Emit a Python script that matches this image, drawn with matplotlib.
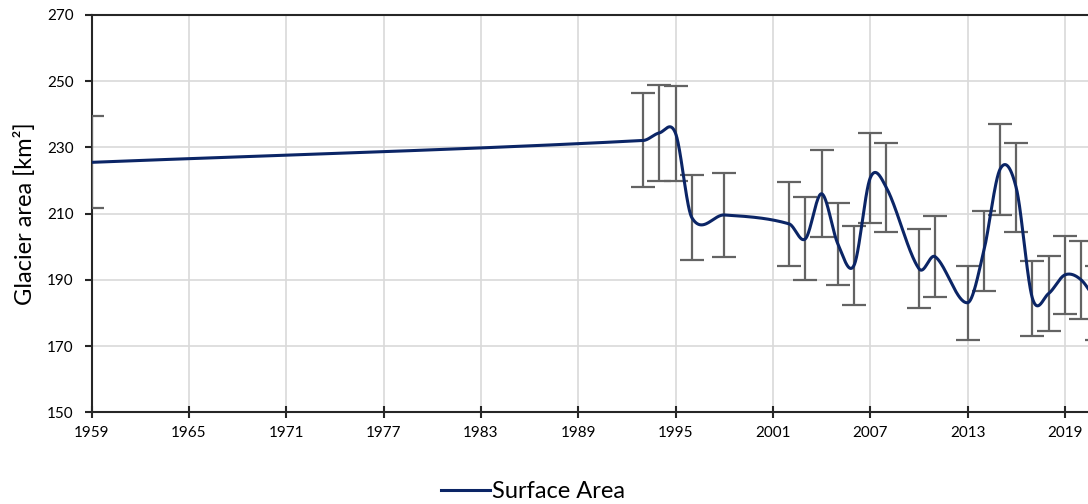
import numpy as np
import matplotlib
matplotlib.use('Agg')
import matplotlib.pyplot as plt

plt.rcParams['font.family'] = ['Lato', 'DejaVu Sans']

# Glacier surface area per year
years = [1959, 1993, 1994, 1995, 1996, 1998, 2002, 2003, 2004, 2005, 2006, 2007,
         2008, 2010, 2011, 2013, 2014, 2015, 2016, 2017, 2018, 2019, 2020, 2021]
area = [225.5, 232.1, 234.4, 234.2, 208.8, 209.6, 206.9, 202.4, 216.0, 200.9, 194.4, 220.8,
        217.8, 193.4, 197.0, 183.1, 198.7, 223.4, 217.8, 184.4, 185.9, 191.5, 190.0, 183.0]
err = [13.9, 14.2, 14.4, 14.4, 12.9, 12.8, 12.7, 12.5, 13.2, 12.3, 12.0, 13.5,
       13.4, 11.9, 12.2, 11.2, 12.2, 13.7, 13.4, 11.3, 11.3, 11.8, 11.7, 11.3]

x_ticks = list(range(1959, 2020, 6))
y_ticks = list(range(150, 271, 20))


# smoothed line like Excel's (cubic hermite, catmull-rom slopes)
def smooth(x, y, n=60):
    x = np.asarray(x, float)
    y = np.asarray(y, float)
    m = np.zeros_like(y)
    m[1:-1] = (y[2:] - y[:-2]) / (x[2:] - x[:-2])
    m[0] = (y[1] - y[0]) / (x[1] - x[0])
    m[-1] = (y[-1] - y[-2]) / (x[-1] - x[-2])
    xs, ys = [], []
    for i in range(len(x) - 1):
        h = x[i + 1] - x[i]
        t = np.linspace(0, 1, n)
        h00 = 2 * t**3 - 3 * t**2 + 1
        h10 = t**3 - 2 * t**2 + t
        h01 = -2 * t**3 + 3 * t**2
        h11 = t**3 - t**2
        xs.append(x[i] + t * h)
        ys.append(h00 * y[i] + h10 * h * m[i] + h01 * y[i + 1] + h11 * h * m[i + 1])
    return np.concatenate(xs), np.concatenate(ys)


fig = plt.figure(figsize=(10.88, 5.04), dpi=100)
ax = fig.add_axes([91.7 / 1088, (504 - 412.3) / 504, (1088 - 91.7) / 1088, (412.3 - 15) / 504])

ax.errorbar(years, area, yerr=err, fmt='none', ecolor='#636363', elinewidth=1.6,
            capsize=8.5, capthick=1.6, zorder=3)
sx, sy = smooth(years, area)
ax.plot(sx, sy, color='#0b2566', linewidth=2.2, label='Surface Area', zorder=4)

ax.set_xlim(1959, 1959 + (1088 - 91.7) / 16.22)
ax.set_ylim(150, 270)
ax.set_xticks(x_ticks)
ax.set_yticks(y_ticks)
ax.grid(True, color='#d9d9d9', linewidth=1.2)
ax.set_axisbelow(True)

for side in ['left', 'bottom', 'top']:
    ax.spines[side].set_color('#262626')
    ax.spines[side].set_linewidth(1.5)
ax.spines['right'].set_visible(False)

ax.tick_params(axis='x', direction='inout', length=8, width=1.5, color='#262626',
               labelsize=11, pad=6)
ax.tick_params(axis='y', direction='out', length=5, width=1.5, color='#262626',
               labelsize=11, pad=8)
ax.set_ylabel('Glacier area [km²]', fontsize=17, labelpad=8)

fig.legend(loc='center', bbox_to_anchor=(533 / 1088, 1 - 492 / 504), frameon=False,
           fontsize=17, handlelength=2.1, handletextpad=0.1)

plt.savefig('out.png', dpi=100)
plt.close()
